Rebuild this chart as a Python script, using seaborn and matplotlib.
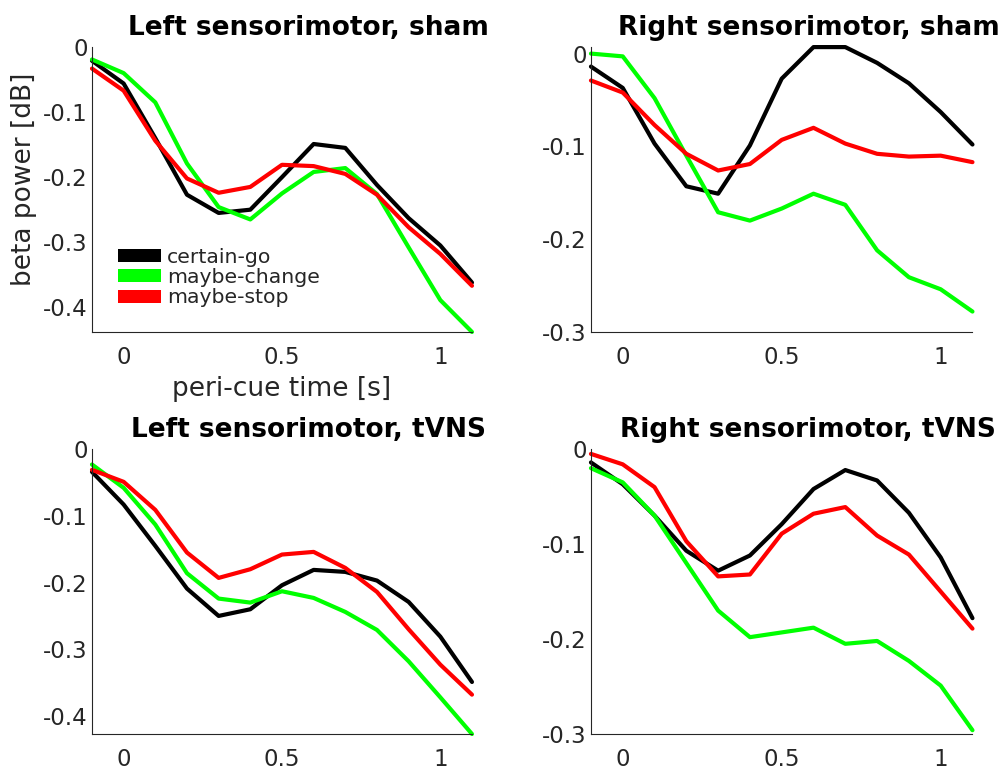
import matplotlib as mpl
mpl.use("agg")
import matplotlib.pyplot as plt
import pandas as pd
import seaborn as sns
from matplotlib.patches import Patch
from matplotlib.ticker import FuncFormatter

# peri-cue time points [s]
time = [-0.1, 0.0, 0.1, 0.2, 0.3, 0.4, 0.5, 0.6, 0.7, 0.8, 0.9, 1.0, 1.1]
conditions = ["certain-go", "maybe-change", "maybe-stop"]

left_sham_go = [-0.021, -0.056, -0.140, -0.227, -0.255, -0.250, -0.200, -0.149, -0.155, -0.212, -0.263, -0.305, -0.362]
left_sham_change = [-0.019, -0.040, -0.085, -0.179, -0.246, -0.265, -0.225, -0.192, -0.186, -0.226, -0.308, -0.389, -0.438]
left_sham_stop = [-0.033, -0.067, -0.144, -0.202, -0.224, -0.215, -0.181, -0.183, -0.195, -0.227, -0.277, -0.318, -0.367]

right_sham_go = [-0.014, -0.037, -0.097, -0.143, -0.151, -0.099, -0.027, 0.007, 0.007, -0.010, -0.032, -0.063, -0.098]
right_sham_change = [0.000, -0.003, -0.048, -0.110, -0.171, -0.180, -0.167, -0.151, -0.163, -0.212, -0.241, -0.254, -0.278]
right_sham_stop = [-0.029, -0.042, -0.077, -0.108, -0.126, -0.119, -0.093, -0.080, -0.097, -0.108, -0.111, -0.110, -0.117]

left_tvns_go = [-0.034, -0.083, -0.145, -0.209, -0.250, -0.240, -0.204, -0.181, -0.184, -0.197, -0.229, -0.281, -0.349]
left_tvns_change = [-0.023, -0.058, -0.113, -0.186, -0.224, -0.230, -0.213, -0.223, -0.244, -0.271, -0.318, -0.372, -0.427]
left_tvns_stop = [-0.031, -0.049, -0.091, -0.155, -0.193, -0.180, -0.158, -0.154, -0.178, -0.214, -0.270, -0.323, -0.368]

right_tvns_go = [-0.014, -0.037, -0.070, -0.107, -0.128, -0.112, -0.079, -0.042, -0.022, -0.033, -0.067, -0.114, -0.178]
right_tvns_change = [-0.020, -0.035, -0.070, -0.120, -0.170, -0.198, -0.193, -0.188, -0.205, -0.202, -0.223, -0.249, -0.296]
right_tvns_stop = [-0.005, -0.016, -0.040, -0.097, -0.134, -0.132, -0.089, -0.068, -0.061, -0.091, -0.111, -0.150, -0.189]

PALETTE = {"certain-go": "#000000", "maybe-change": "#00ff00", "maybe-stop": "#ff0000"}
AX_COLOR = "#262626"

panels = [
    ("Left sensorimotor, sham", [left_sham_go, left_sham_change, left_sham_stop],
     (-0.438, 0.0), [-0.4, -0.3, -0.2, -0.1, 0.0], [0.0916, 0.570, 0.3785, 0.369]),
    ("Right sensorimotor, sham", [right_sham_go, right_sham_change, right_sham_stop],
     (-0.3, 0.007), [-0.3, -0.2, -0.1, 0.0], [0.5886, 0.570, 0.380, 0.369]),
    ("Left sensorimotor, tVNS", [left_tvns_go, left_tvns_change, left_tvns_stop],
     (-0.427, 0.0), [-0.4, -0.3, -0.2, -0.1, 0.0], [0.0916, 0.0492, 0.3785, 0.369]),
    ("Right sensorimotor, tVNS", [right_tvns_go, right_tvns_change, right_tvns_stop],
     (-0.3, 0.0), [-0.3, -0.2, -0.1, 0.0], [0.5886, 0.0492, 0.380, 0.369]),
]

sns.set_style("white")
plt.rcParams["font.family"] = ["DejaVu Sans"]
plt.rcParams["axes.unicode_minus"] = False

fig = plt.figure(figsize=(10.04, 7.72), dpi=100)
fmt = FuncFormatter(lambda v, pos: "%g" % round(v, 3))

for i, (title, series, ylim, yticks, rect) in enumerate(panels):
    ax = fig.add_axes(rect)
    df = pd.DataFrame({
        "time": time * 3,
        "power": series[0] + series[1] + series[2],
        "condition": [c for c in conditions for _ in time],
    })
    sns.lineplot(data=df, x="time", y="power", hue="condition", palette=PALETTE,
                 linewidth=3, errorbar=None, sort=False, legend=False, ax=ax)
    for line in ax.lines:
        line.set_clip_on(False)

    ax.set_xlim(-0.1, 1.1)
    ax.set_ylim(*ylim)
    ax.set_xticks([0, 0.5, 1])
    ax.set_yticks(yticks)
    ax.xaxis.set_major_formatter(fmt)
    ax.yaxis.set_major_formatter(fmt)
    ax.tick_params(direction="in", length=3, width=0.8, colors=AX_COLOR,
                   labelsize=16.5, labelcolor=AX_COLOR)
    ax.tick_params(axis="x", pad=10)
    ax.tick_params(axis="y", pad=3)
    for side in ("top", "right"):
        ax.spines[side].set_visible(False)
    for side in ("left", "bottom"):
        ax.spines[side].set_color(AX_COLOR)
        ax.spines[side].set_linewidth(0.8)

    ax.set_title(title, fontsize=19, fontweight="bold", color="black", x=0.57, pad=8.5)

    if i == 0:
        ax.set_xlabel("peri-cue time [s]", fontsize=19, color=AX_COLOR, labelpad=5)
        ax.set_ylabel("beta power [dB]", fontsize=19, color=AX_COLOR)
        ax.yaxis.set_label_coords(-0.145, 0.537)
        handles = [Patch(facecolor=PALETTE[c], edgecolor="none", label=c) for c in conditions]
        ax.legend(handles=handles, loc="upper left", bbox_to_anchor=(0.068, 0.296),
                  frameon=False, fontsize=14.7, handlelength=2.1, handleheight=0.6,
                  handletextpad=0.3, labelspacing=0.07, borderpad=0, borderaxespad=0)
    else:
        ax.set_xlabel("")
        ax.set_ylabel("")

fig.savefig("out.png", dpi=100)
